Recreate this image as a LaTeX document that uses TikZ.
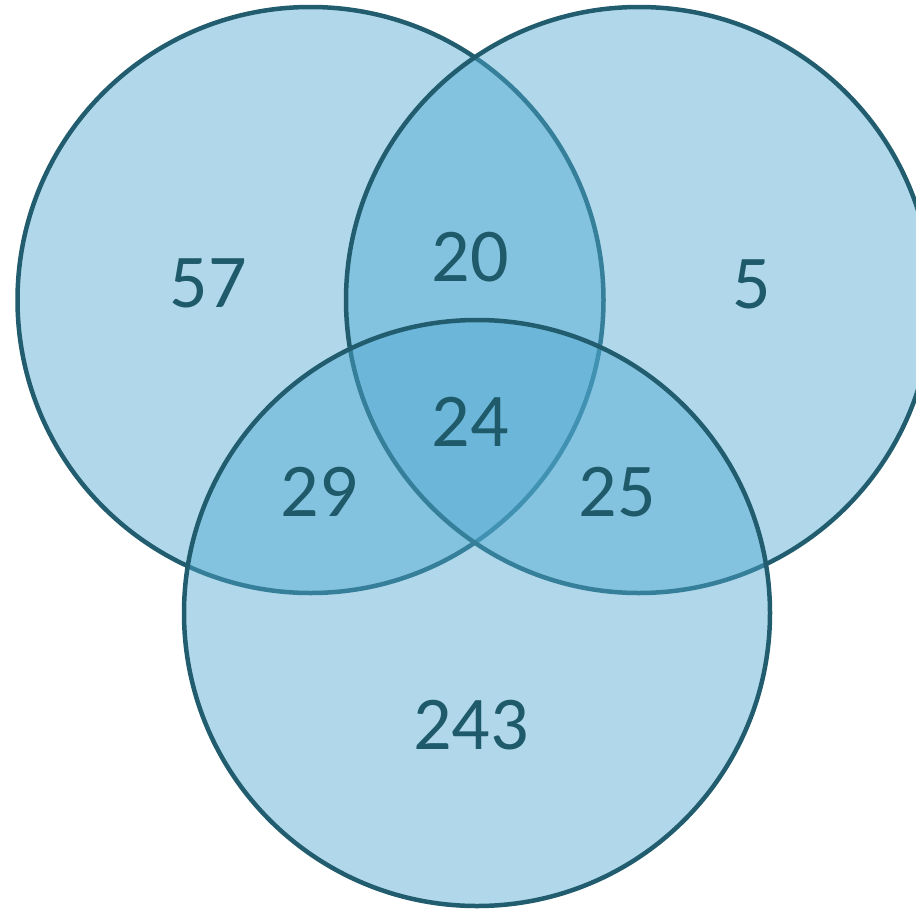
\documentclass[tikz,border=0pt]{standalone}
\usepackage{fontspec}
\setmainfont{Carlito}
\definecolor{vfill}{HTML}{4FA9D1}
\definecolor{vline}{HTML}{215D6E}
\definecolor{vtext}{HTML}{1F5A6A}
\begin{document}
\begin{tikzpicture}[x=1pt,y=-1pt,
  vset/.style={fill=vfill,fill opacity=0.45,draw=vline,line width=4.5pt},
  num/.style={text=vtext,font=\fontsize{76}{80}\selectfont,inner sep=0pt}]
\clip (0,0) rectangle (916,908);
\useasboundingbox (0,0) rectangle (916,908);
\coordinate (cA) at (310.5,300);
\coordinate (cB) at (639,300);
\coordinate (cC) at (477,613);
\path[vset] (cA) circle[radius=293];
\path[vset] (cB) circle[radius=293];
\path[vset] (cC) circle[radius=293];
\node[num] (n57) at (208,283) {57};
\node[num] (n20) at (470,257) {20};
\node[num] (n5) at (752,284) {5};
\node[num] (n24) at (470,422) {24};
\node[num] (n29) at (319,492) {29};
\node[num] (n25) at (617,492) {25};
\node[num] (n243) at (471,725) {243};
\end{tikzpicture}
\end{document}
